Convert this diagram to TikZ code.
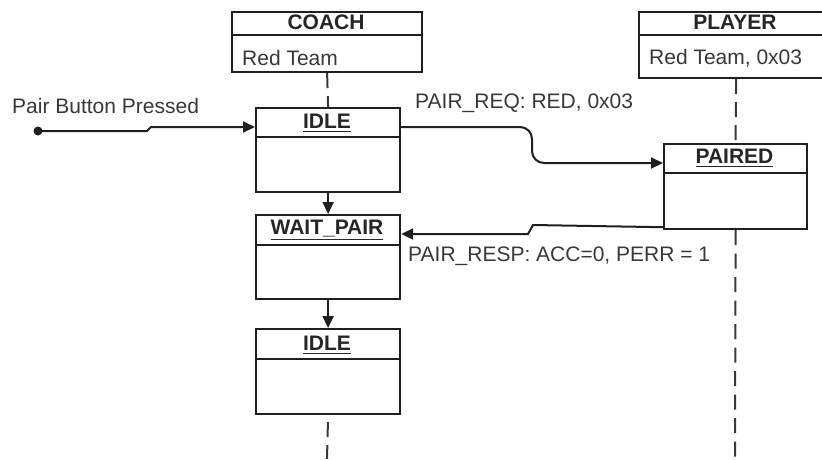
\documentclass[tikz,border=0pt]{standalone}
\usepackage{fontspec}
\setmainfont{Liberation Sans}
\usetikzlibrary{arrows.meta,calc}
\newcommand\myul[2][2.5pt]{\setbox0\hbox{#2}\rlap{\vrule height -#1 depth \dimexpr#1+1.8pt\relax width \wd0}\box0}
\begin{document}
\begin{tikzpicture}[x=1pt,y=-1pt,
  every node/.style={font=\fontsize{21}{25}\selectfont},
  ln/.style={line width=2pt, draw=black!88},
  box/.style={draw=black!88, line width=2.2pt, fill=white, anchor=north west, inner sep=0pt},
  ttl/.style={font=\fontsize{21}{25}\selectfont\bfseries, text=black!85, inner sep=0pt, anchor=base},
  lbl/.style={text=black!78, inner sep=0pt, anchor=base west},
  life/.style={line width=2pt, draw=black!78, dash pattern=on 15pt off 8pt},
  arr/.style={-{Triangle[length=12pt,width=11pt]}},
]
\useasboundingbox (0,0) rectangle (822,459);

% boxes
\node[box, minimum width=190pt, minimum height=60pt] (coach) at (231,11) {};
\node[box, minimum width=194pt, minimum height=66pt] (player) at (638,11) {};
\node[box, minimum width=144pt, minimum height=84pt] (idle1) at (255,107) {};
\node[box, minimum width=144pt, minimum height=84pt] (wait) at (255,214) {};
\node[box, minimum width=144pt, minimum height=85pt] (idle2) at (255,328) {};
\node[box, minimum width=143pt, minimum height=85pt] (paired) at (663,143) {};

% dividers
\draw[ln] ($(coach.north west)+(0,24)$) -- ($(coach.north east)+(0,24)$);
\draw[ln] ($(player.north west)+(0,24)$) -- ($(player.north east)+(0,24)$);
\draw[ln] ($(idle1.north west)+(0,30)$) -- ($(idle1.north east)+(0,30)$);
\draw[ln] ($(wait.north west)+(0,31)$) -- ($(wait.north east)+(0,31)$);
\draw[ln] ($(idle2.north west)+(0,31)$) -- ($(idle2.north east)+(0,31)$);
\draw[ln] ($(paired.north west)+(0,30)$) -- ($(paired.north east)+(0,30)$);

% texts in boxes
\node[ttl] (coachT) at (326,29) {COACH};
\node[lbl] (coachL) at (242,65) {Red Team};
\node[ttl] (playerT) at (735,29) {PLAYER};
\node[lbl] (playerL) at (649,64) {Red Team, 0x03};
\node[ttl] (idle1T) at (327,128) {\myul{IDLE}};
\node[ttl] (waitT) at (327,234) {\myul[4.5pt]{WAIT\_PAIR}};
\node[ttl] (idle2T) at (327,350) {\myul{IDLE}};
\node[ttl] (pairedT) at (734.5,163) {\myul{PAIRED}};

% lifelines
\coordinate (coachEnd) at (327,459);
\coordinate (playerEnd) at (735,459);
\draw[life] (coach.south) -- (idle1.north);
\draw[life, dash phase=16pt] (idle2.south) -- (coachEnd);
\draw[life] (player.south) -- (paired.north);
\draw[life, dash pattern=on 15pt off 8.5pt] (paired.south) -- (playerEnd);

% vertical transitions
\draw[ln,arr] (idle1.south) -- (wait.north);
\draw[ln,arr] (wait.south) -- (idle2.north);

% pair button
\node[circle, fill=black!88, inner sep=0pt, minimum size=9pt] (dot) at (38,131) {};
\node[lbl] (pbp) at (12,113) {Pair Button Pressed};
\draw[ln,arr] (dot.center) -- (147,131) -- (151,127) -- ($(idle1.north west)+(0,20)$);

% pair req
\node[lbl] (reqL) at (415,108) {PAIR\_REQ: RED, 0x03};
\draw[ln,arr,rounded corners=12pt] ($(idle1.north east)+(0,20)$) -- (532,127) -- (532,163) -- ($(paired.north west)+(0,20)$);

% pair resp
\node[lbl] (respL) at (408,261) {PAIR\_RESP: ACC=0, PERR = 1};
\draw[ln,arr] ($(paired.south west)+(0,-3)$) -- (533,225) -- (528,234) -- ($(wait.north east)+(0,20)$);
\end{tikzpicture}
\end{document}
